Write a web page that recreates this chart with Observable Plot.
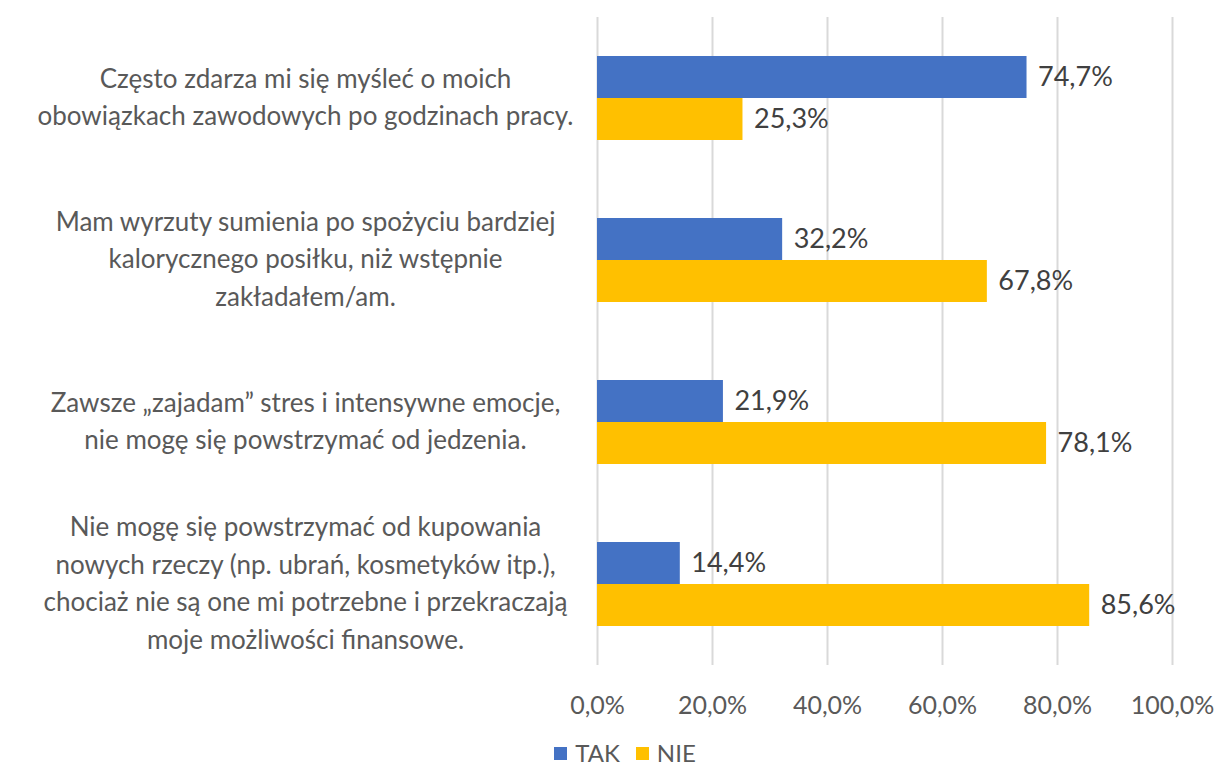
<!DOCTYPE html>
<html>
<head>
<meta charset="utf-8">
<script src="https://cdn.jsdelivr.net/npm/d3@7"></script>
<script src="https://cdn.jsdelivr.net/npm/@observablehq/plot@0.6"></script>
<style>
  html, body { margin: 0; padding: 0; background: #fff; overflow: hidden; }
  #chart { width: 1216px; }
  #chart svg { display: block; }
  .legend { display: flex; justify-content: center; align-items: center; font-family: Lato, sans-serif; font-size: 24px; line-height: 28px; color: #595959; height: 28px; margin-top: 4px; margin-left: 34px; }
  .legend .item { display: flex; align-items: center; margin: 0 8px; }
  .legend .sw { width: 13px; height: 13px; display: inline-block; margin-right: 8px; }
</style>
</head>
<body>
<div id="chart"></div>
<script>
const questions = [
  "Często zdarza mi się myśleć o moich\nobowiązkach zawodowych po godzinach pracy.",
  "Mam wyrzuty sumienia po spożyciu bardziej\nkalorycznego posiłku, niż wstępnie\nzakładałem/am.",
  "Zawsze „zajadam” stres i intensywne emocje,\nnie mogę się powstrzymać od jedzenia.",
  "Nie mogę się powstrzymać od kupowania\nnowych rzeczy (np. ubrań, kosmetyków itp.),\nchociaż nie są one mi potrzebne i przekraczają\nmoje możliwości finansowe."
];
const series = ["TAK", "NIE"];
const takValues = [74.7, 32.2, 21.9, 14.4];
const nieValues = [25.3, 67.8, 78.1, 85.6];
const xTicks = [0, 20, 40, 60, 80, 100];
const colors = ["#4472C4", "#FFC000"];

const data = questions.flatMap((q, i) => [
  {q, s: "TAK", v: takValues[i]},
  {q, s: "NIE", v: nieValues[i]}
]);
const fmt = v => v.toFixed(1).replace(".", ",") + "%";

const chart = Plot.plot({
  width: 1216,
  height: 735,
  marginLeft: 597,
  marginRight: 44,
  marginTop: 15,
  marginBottom: 69,
  style: {fontFamily: "Lato, sans-serif", fontSize: "25px", color: "#595959", background: "#fff"},
  x: {domain: [0, 100], ticks: xTicks, tickFormat: fmt, tickSize: 0, tickPadding: 31, label: null},
  y: {domain: series, paddingInner: 0, paddingOuter: 0.915, axis: null},
  fy: {domain: questions, padding: 0, axis: null},
  color: {domain: series, range: colors},
  marks: [
    Plot.ruleX(xTicks, {stroke: "#d9d9d9", strokeWidth: 2}),
    Plot.barX(data, {x: "v", y: "s", fy: "q", fill: "s"}),
    Plot.text(data, {x: "v", y: "s", fy: "q", text: d => fmt(d.v), textAnchor: "start", dx: 11, fill: "#404040", fontSize: 27}),
    Plot.text(questions, {fy: d => d, text: d => d, frameAnchor: "left", dx: -292, dy: -4, textAnchor: "middle", lineHeight: 1.44, fill: "#595959", fontSize: 26})
  ]
});
document.getElementById("chart").appendChild(chart);

const legend = document.createElement("div");
legend.className = "legend";
series.forEach((s, i) => {
  const item = document.createElement("span");
  item.className = "item";
  const sw = document.createElement("span");
  sw.className = "sw";
  sw.style.background = colors[i];
  item.appendChild(sw);
  item.appendChild(document.createTextNode(s));
  legend.appendChild(item);
});
document.getElementById("chart").appendChild(legend);
</script>
</body>
</html>
